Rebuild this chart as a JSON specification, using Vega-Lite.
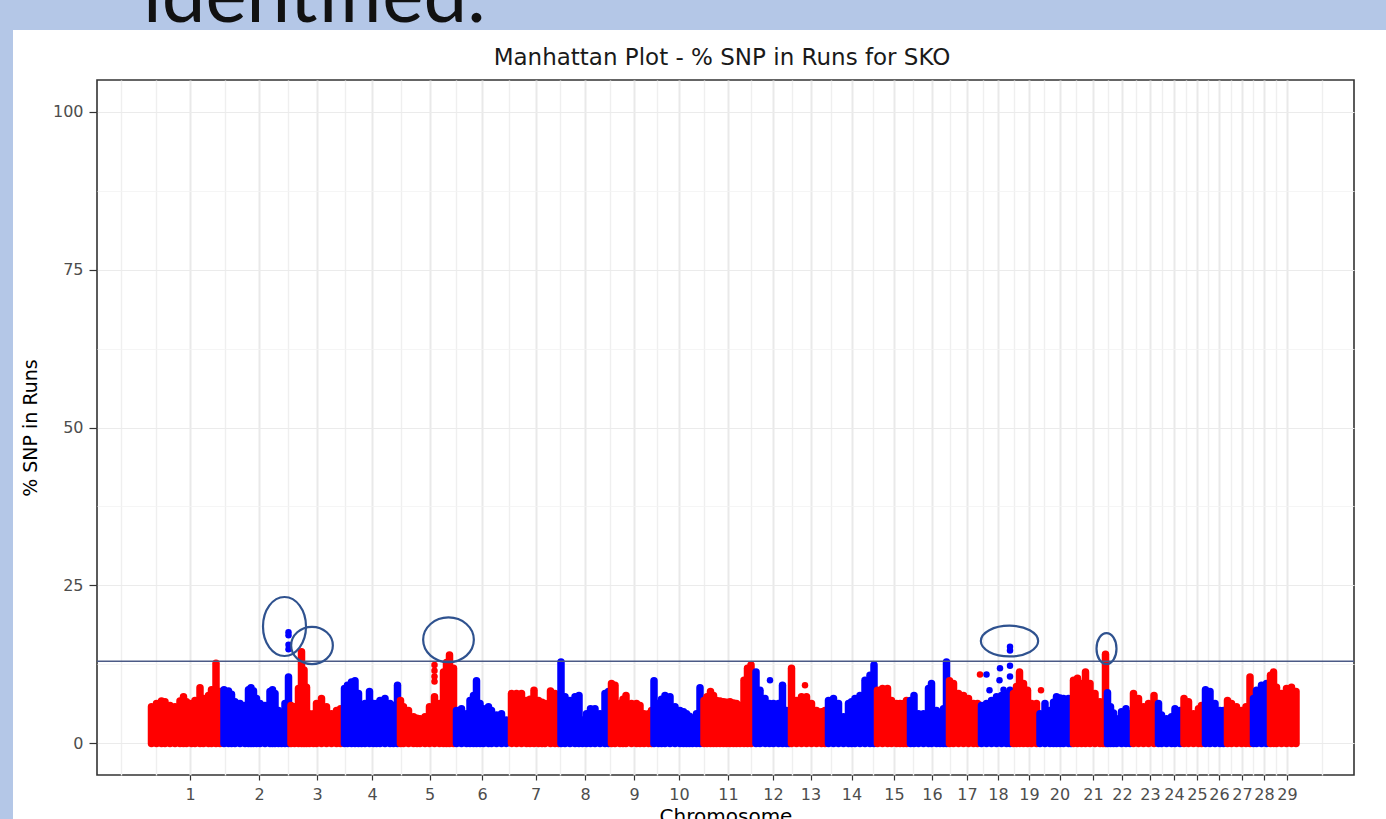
{
  "$schema": "https://vega.github.io/schema/vega-lite/v6.json",
  "width": 1257,
  "height": 695,
  "autosize": {"type": "none"},
  "padding": {"left": 97, "top": 80, "right": 32, "bottom": 44},
  "background": "white",
  "config": {"view": {"stroke": "#333333", "strokeWidth": 1.6}, "font": "DejaVu Sans"},
  "resolve": {"axis": {"x": "independent", "y": "independent"}},
  "datasets": {
    "cols": [
      {"chr":1,"pos":3,"pct":5.8},{"chr":1,"pos":13,"pct":6.3},{"chr":1,"pos":23,"pct":6.7},{"chr":1,"pos":30,"pct":6.6},{"chr":1,"pos":40,"pct":6.0},{"chr":1,"pos":50,"pct":5.8},{"chr":1,"pos":60,"pct":6.7},{"chr":1,"pos":67,"pct":7.4},{"chr":1,"pos":73,"pct":6.6},{"chr":1,"pos":83,"pct":6.3},{"chr":1,"pos":90,"pct":6.8},{"chr":1,"pos":100,"pct":8.8},{"chr":1,"pos":107,"pct":7.1},{"chr":1,"pos":117,"pct":7.6},{"chr":1,"pos":123,"pct":8.5},{"chr":1,"pos":132,"pct":12.7},{"chr":1,"pos":140,"pct":8.2},
      {"chr":2,"pos":148,"pct":8.5},{"chr":2,"pos":157,"pct":8.3},{"chr":2,"pos":163,"pct":7.8},{"chr":2,"pos":170,"pct":6.6},{"chr":2,"pos":180,"pct":6.3},{"chr":2,"pos":190,"pct":6.0},{"chr":2,"pos":197,"pct":8.5},{"chr":2,"pos":202,"pct":8.8},{"chr":2,"pos":207,"pct":8.3},{"chr":2,"pos":213,"pct":7.1},{"chr":2,"pos":220,"pct":6.3},{"chr":2,"pos":230,"pct":6.0},{"chr":2,"pos":240,"pct":8.2},{"chr":2,"pos":245,"pct":8.5},{"chr":2,"pos":250,"pct":7.9},{"chr":2,"pos":257,"pct":5.2},{"chr":2,"pos":263,"pct":4.7},{"chr":2,"pos":270,"pct":6.3},{"chr":2,"pos":277,"pct":10.5},
      {"chr":3,"pos":282,"pct":6.0},{"chr":3,"pos":289,"pct":5.8},{"chr":3,"pos":297,"pct":8.7},{"chr":3,"pos":303,"pct":14.5},{"chr":3,"pos":308,"pct":11.6},{"chr":3,"pos":313,"pct":8.9},{"chr":3,"pos":319,"pct":4.7},{"chr":3,"pos":327,"pct":4.7},{"chr":3,"pos":333,"pct":6.3},{"chr":3,"pos":343,"pct":7.1},{"chr":3,"pos":353,"pct":5.8},{"chr":3,"pos":363,"pct":4.7},{"chr":3,"pos":373,"pct":5.2},{"chr":3,"pos":381,"pct":5.5},
      {"chr":4,"pos":389,"pct":8.7},{"chr":4,"pos":395,"pct":9.2},{"chr":4,"pos":403,"pct":9.7},{"chr":4,"pos":410,"pct":9.9},{"chr":4,"pos":417,"pct":7.9},{"chr":4,"pos":423,"pct":6.0},{"chr":4,"pos":430,"pct":6.3},{"chr":4,"pos":439,"pct":8.2},{"chr":4,"pos":447,"pct":6.3},{"chr":4,"pos":453,"pct":6.3},{"chr":4,"pos":460,"pct":6.8},{"chr":4,"pos":470,"pct":7.1},{"chr":4,"pos":480,"pct":6.3},{"chr":4,"pos":487,"pct":6.0},{"chr":4,"pos":495,"pct":9.2},
      {"chr":5,"pos":501,"pct":6.8},{"chr":5,"pos":507,"pct":5.8},{"chr":5,"pos":517,"pct":5.2},{"chr":5,"pos":527,"pct":4.2},{"chr":5,"pos":534,"pct":4.0},{"chr":5,"pos":540,"pct":3.9},{"chr":5,"pos":550,"pct":4.2},{"chr":5,"pos":559,"pct":5.8},{"chr":5,"pos":569,"pct":7.4},{"chr":5,"pos":579,"pct":6.3},{"chr":5,"pos":587,"pct":11.3},{"chr":5,"pos":593,"pct":12.8},{"chr":5,"pos":599,"pct":14.0},{"chr":5,"pos":607,"pct":11.9},
      {"chr":6,"pos":613,"pct":5.2},{"chr":6,"pos":623,"pct":5.5},{"chr":6,"pos":633,"pct":4.7},{"chr":6,"pos":640,"pct":6.8},{"chr":6,"pos":647,"pct":7.6},{"chr":6,"pos":653,"pct":9.9},{"chr":6,"pos":660,"pct":6.3},{"chr":6,"pos":667,"pct":5.5},{"chr":6,"pos":677,"pct":5.8},{"chr":6,"pos":683,"pct":5.2},{"chr":6,"pos":693,"pct":4.5},{"chr":6,"pos":703,"pct":4.7},{"chr":6,"pos":713,"pct":3.7},
      {"chr":7,"pos":723,"pct":7.9},{"chr":7,"pos":733,"pct":7.9},{"chr":7,"pos":743,"pct":7.9},{"chr":7,"pos":753,"pct":6.8},{"chr":7,"pos":760,"pct":7.0},{"chr":7,"pos":768,"pct":8.4},{"chr":7,"pos":777,"pct":6.8},{"chr":7,"pos":784,"pct":6.5},{"chr":7,"pos":790,"pct":6.3},{"chr":7,"pos":801,"pct":8.3},{"chr":7,"pos":810,"pct":7.9},{"chr":7,"pos":817,"pct":7.4},
      {"chr":8,"pos":822,"pct":12.9},{"chr":8,"pos":830,"pct":7.4},{"chr":8,"pos":840,"pct":6.8},{"chr":8,"pos":850,"pct":7.4},{"chr":8,"pos":858,"pct":7.6},{"chr":8,"pos":865,"pct":3.7},{"chr":8,"pos":873,"pct":4.7},{"chr":8,"pos":881,"pct":5.5},{"chr":8,"pos":890,"pct":5.5},{"chr":8,"pos":900,"pct":4.7},{"chr":8,"pos":910,"pct":7.9},{"chr":8,"pos":917,"pct":8.2},
      {"chr":9,"pos":923,"pct":9.5},{"chr":9,"pos":930,"pct":9.2},{"chr":9,"pos":940,"pct":6.3},{"chr":9,"pos":946,"pct":7.0},{"chr":9,"pos":952,"pct":7.6},{"chr":9,"pos":963,"pct":6.3},{"chr":9,"pos":973,"pct":6.3},{"chr":9,"pos":980,"pct":6.0},{"chr":9,"pos":988,"pct":4.7},{"chr":9,"pos":997,"pct":4.7},{"chr":9,"pos":1003,"pct":5.2},
      {"chr":10,"pos":1008,"pct":9.9},{"chr":10,"pos":1017,"pct":6.3},{"chr":10,"pos":1023,"pct":7.0},{"chr":10,"pos":1030,"pct":7.6},{"chr":10,"pos":1040,"pct":7.4},{"chr":10,"pos":1050,"pct":5.8},{"chr":10,"pos":1060,"pct":5.2},{"chr":10,"pos":1067,"pct":5.0},{"chr":10,"pos":1073,"pct":4.7},{"chr":10,"pos":1079,"pct":4.3},{"chr":10,"pos":1085,"pct":3.9},{"chr":10,"pos":1093,"pct":4.7},{"chr":10,"pos":1100,"pct":8.8},
      {"chr":11,"pos":1108,"pct":6.8},{"chr":11,"pos":1114,"pct":7.4},{"chr":11,"pos":1121,"pct":8.2},{"chr":11,"pos":1127,"pct":7.6},{"chr":11,"pos":1133,"pct":6.8},{"chr":11,"pos":1140,"pct":6.7},{"chr":11,"pos":1147,"pct":6.6},{"chr":11,"pos":1153,"pct":6.5},{"chr":11,"pos":1160,"pct":6.6},{"chr":11,"pos":1167,"pct":6.4},{"chr":11,"pos":1173,"pct":6.3},{"chr":11,"pos":1180,"pct":6.0},{"chr":11,"pos":1188,"pct":10.0},{"chr":11,"pos":1195,"pct":11.9},{"chr":11,"pos":1202,"pct":12.4},
      {"chr":12,"pos":1212,"pct":11.3},{"chr":12,"pos":1220,"pct":8.4},{"chr":12,"pos":1230,"pct":7.1},{"chr":12,"pos":1239,"pct":6.3},{"chr":12,"pos":1247,"pct":6.3},{"chr":12,"pos":1257,"pct":6.3},{"chr":12,"pos":1265,"pct":9.2},{"chr":12,"pos":1273,"pct":5.2},{"chr":12,"pos":1278,"pct":4.5},
      {"chr":13,"pos":1283,"pct":11.9},{"chr":13,"pos":1293,"pct":6.8},{"chr":13,"pos":1303,"pct":7.4},{"chr":13,"pos":1313,"pct":7.4},{"chr":13,"pos":1323,"pct":6.3},{"chr":13,"pos":1333,"pct":5.2},{"chr":13,"pos":1343,"pct":5.0},{"chr":13,"pos":1350,"pct":5.2},
      {"chr":14,"pos":1357,"pct":6.8},{"chr":14,"pos":1367,"pct":7.1},{"chr":14,"pos":1377,"pct":6.3},{"chr":14,"pos":1387,"pct":4.2},{"chr":14,"pos":1397,"pct":6.3},{"chr":14,"pos":1403,"pct":6.6},{"chr":14,"pos":1410,"pct":7.1},{"chr":14,"pos":1420,"pct":7.6},{"chr":14,"pos":1430,"pct":10.0},{"chr":14,"pos":1440,"pct":10.8},{"chr":14,"pos":1448,"pct":12.4},
      {"chr":15,"pos":1455,"pct":8.4},{"chr":15,"pos":1465,"pct":8.7},{"chr":15,"pos":1475,"pct":8.7},{"chr":15,"pos":1483,"pct":6.8},{"chr":15,"pos":1493,"pct":6.3},{"chr":15,"pos":1500,"pct":6.3},{"chr":15,"pos":1507,"pct":6.3},{"chr":15,"pos":1513,"pct":6.8},
      {"chr":16,"pos":1521,"pct":6.8},{"chr":16,"pos":1528,"pct":7.6},{"chr":16,"pos":1537,"pct":4.7},{"chr":16,"pos":1547,"pct":4.7},{"chr":16,"pos":1557,"pct":8.7},{"chr":16,"pos":1563,"pct":9.5},{"chr":16,"pos":1573,"pct":5.2},{"chr":16,"pos":1580,"pct":4.7},{"chr":16,"pos":1587,"pct":5.5},{"chr":16,"pos":1593,"pct":12.9},
      {"chr":17,"pos":1599,"pct":9.9},{"chr":17,"pos":1607,"pct":9.5},{"chr":17,"pos":1617,"pct":7.9},{"chr":17,"pos":1627,"pct":7.6},{"chr":17,"pos":1637,"pct":7.1},{"chr":17,"pos":1647,"pct":6.3},{"chr":17,"pos":1655,"pct":6.3},
      {"chr":18,"pos":1663,"pct":6.0},{"chr":18,"pos":1673,"pct":6.3},{"chr":18,"pos":1683,"pct":6.8},{"chr":18,"pos":1693,"pct":7.4},{"chr":18,"pos":1703,"pct":7.6},{"chr":18,"pos":1713,"pct":7.9},{"chr":18,"pos":1720,"pct":8.4},
      {"chr":19,"pos":1727,"pct":7.9},{"chr":19,"pos":1733,"pct":9.0},{"chr":19,"pos":1739,"pct":11.3},{"chr":19,"pos":1747,"pct":9.5},{"chr":19,"pos":1755,"pct":8.4},{"chr":19,"pos":1763,"pct":6.3},{"chr":19,"pos":1773,"pct":6.3},
      {"chr":20,"pos":1780,"pct":4.7},{"chr":20,"pos":1790,"pct":6.3},{"chr":20,"pos":1800,"pct":5.2},{"chr":20,"pos":1807,"pct":6.5},{"chr":20,"pos":1813,"pct":7.4},{"chr":20,"pos":1820,"pct":7.2},{"chr":20,"pos":1827,"pct":7.1},{"chr":20,"pos":1837,"pct":7.1},{"chr":20,"pos":1842,"pct":6.3},
      {"chr":21,"pos":1847,"pct":10.0},{"chr":21,"pos":1855,"pct":10.3},{"chr":21,"pos":1863,"pct":9.5},{"chr":21,"pos":1871,"pct":11.3},{"chr":21,"pos":1880,"pct":9.5},{"chr":21,"pos":1890,"pct":7.9},{"chr":21,"pos":1900,"pct":6.6},{"chr":21,"pos":1906,"pct":6.4},{"chr":21,"pos":1911,"pct":14.1},
      {"chr":22,"pos":1915,"pct":8.0},{"chr":22,"pos":1921,"pct":5.8},{"chr":22,"pos":1927,"pct":4.8},{"chr":22,"pos":1933,"pct":3.9},{"chr":22,"pos":1943,"pct":5.0},{"chr":22,"pos":1952,"pct":5.5},{"chr":22,"pos":1960,"pct":4.7},
      {"chr":23,"pos":1967,"pct":7.9},{"chr":23,"pos":1977,"pct":7.1},{"chr":23,"pos":1987,"pct":5.8},{"chr":23,"pos":1997,"pct":6.3},{"chr":23,"pos":2008,"pct":7.6},
      {"chr":24,"pos":2017,"pct":6.3},{"chr":24,"pos":2023,"pct":4.5},{"chr":24,"pos":2033,"pct":3.9},{"chr":24,"pos":2043,"pct":4.2},{"chr":24,"pos":2050,"pct":5.5},{"chr":24,"pos":2060,"pct":5.2},
      {"chr":25,"pos":2068,"pct":7.1},{"chr":25,"pos":2077,"pct":6.6},{"chr":25,"pos":2087,"pct":4.7},{"chr":25,"pos":2097,"pct":5.5},{"chr":25,"pos":2103,"pct":6.0},
      {"chr":26,"pos":2111,"pct":8.5},{"chr":26,"pos":2120,"pct":8.2},{"chr":26,"pos":2130,"pct":6.3},{"chr":26,"pos":2140,"pct":5.2},{"chr":26,"pos":2147,"pct":5.2},
      {"chr":27,"pos":2155,"pct":6.8},{"chr":27,"pos":2163,"pct":6.3},{"chr":27,"pos":2173,"pct":5.8},{"chr":27,"pos":2183,"pct":5.2},{"chr":27,"pos":2192,"pct":5.8},{"chr":27,"pos":2200,"pct":10.5},
      {"chr":28,"pos":2207,"pct":7.1},{"chr":28,"pos":2213,"pct":8.4},{"chr":28,"pos":2223,"pct":9.2},{"chr":28,"pos":2233,"pct":9.5},
      {"chr":29,"pos":2241,"pct":10.8},{"chr":29,"pos":2247,"pct":11.3},{"chr":29,"pos":2253,"pct":8.9},{"chr":29,"pos":2263,"pct":7.9},{"chr":29,"pos":2273,"pct":8.7},{"chr":29,"pos":2283,"pct":8.9},{"chr":29,"pos":2292,"pct":8.2}
    ],
    "pts": [
      {"chr":2,"pos":277,"pct":17.6},{"chr":2,"pos":277,"pct":17.1},{"chr":2,"pos":277,"pct":15.6},{"chr":2,"pos":277,"pct":14.9},
      {"chr":5,"pos":569,"pct":12.4},{"chr":5,"pos":569,"pct":11.5},{"chr":5,"pos":569,"pct":10.6},{"chr":5,"pos":569,"pct":9.8},
      {"chr":12,"pos":1240,"pct":10.0},{"chr":13,"pos":1310,"pct":9.2},{"chr":17,"pos":1660,"pct":10.9},
      {"chr":18,"pos":1673,"pct":10.9},{"chr":18,"pos":1679,"pct":8.4},{"chr":18,"pos":1700,"pct":11.9},{"chr":18,"pos":1699,"pct":10.0},{"chr":18,"pos":1720,"pct":12.3},{"chr":18,"pos":1720,"pct":10.6},{"chr":18,"pos":1707,"pct":8.5},{"chr":18,"pos":1720,"pct":15.3},{"chr":18,"pos":1720,"pct":14.7},
      {"chr":19,"pos":1782,"pct":8.4}
    ],
    "highlights": [
      {"chr":2,"pos":269,"pct":18.5},{"chr":3,"pos":324,"pct":15.5},{"chr":5,"pos":597,"pct":16.4},{"chr":18,"pos":1719,"pct":16.2},{"chr":21,"pos":1913,"pct":15.0}
    ],
    "hline": [{"threshold": 13}]
  },
  "layer": [
    {
      "data": {"values": [{"part": "slide left margin"}]},
      "mark": {"type": "rect", "color": "#b4c7e7"},
      "encoding": {
        "x": {"datum": -400, "type": "quantitative", "scale": {"domain": [-106, 2408], "nice": false, "zero": false}, "axis": null},
        "x2": {"datum": -274},
        "y": {"datum": 130, "type": "quantitative", "scale": {"domain": [-5, 105], "nice": false, "zero": false}, "axis": null},
        "y2": {"datum": -30}
      }
    },
    {
      "data": {"values": [{"part": "slide top margin"}]},
      "mark": {"type": "rect", "color": "#b4c7e7"},
      "encoding": {
        "x": {"datum": -400, "type": "quantitative", "scale": {"domain": [-106, 2408], "nice": false, "zero": false}, "axis": null},
        "x2": {"datum": 2600},
        "y": {"datum": 130, "type": "quantitative", "scale": {"domain": [-5, 105], "nice": false, "zero": false}, "axis": null},
        "y2": {"datum": 112.9}
      }
    },
    {
      "data": {"values": [{"label": "identified."}]},
      "mark": {"type": "text", "font": "Lato", "fontSize": 78, "align": "left", "baseline": "alphabetic", "color": "#111111"},
      "encoding": {
        "text": {"field": "label"},
        "x": {"datum": -14, "type": "quantitative", "scale": {"domain": [-106, 2408], "nice": false, "zero": false}, "axis": null},
        "y": {"datum": 114.18, "type": "quantitative", "scale": {"domain": [-5, 105], "nice": false, "zero": false}, "axis": null}
      }
    },
    {
      "data": {"values": [{"label": "Manhattan Plot - % SNP in Runs for  SKO"}]},
      "mark": {"type": "text", "font": "DejaVu Sans", "fontSize": 23, "align": "center", "baseline": "alphabetic", "color": "#1a1a1a"},
      "encoding": {
        "text": {"field": "label"},
        "x": {"datum": 1144, "type": "quantitative", "scale": {"domain": [-106, 2408], "nice": false, "zero": false}, "axis": null},
        "y": {"datum": 107.37, "type": "quantitative", "scale": {"domain": [-5, 105], "nice": false, "zero": false}, "axis": null}
      }
    },
    {
      "data": {"name": "cols"},
      "mark": {"type": "rule", "strokeWidth": 7.5, "strokeCap": "round"},
      "encoding": {
        "x": {
          "field": "pos", "type": "quantitative",
          "scale": {"domain": [-106, 2408], "nice": false, "zero": false},
          "axis": {
            "values": [80,218,334,444,559,664,771,870,968,1058,1156,1246,1321,1403,1488,1564,1634,1696,1758,1819,1886,1944,2000,2048,2094,2138,2184,2228,2274],
            "labelExpr": "indexof([80,218,334,444,559,664,771,870,968,1058,1156,1246,1321,1403,1488,1564,1634,1696,1758,1819,1886,1944,2000,2048,2094,2138,2184,2228,2274], datum.value) + 1",
            "title": "Chromosome",
            "grid": true, "gridColor": "#e9e9e9", "gridWidth": 2,
            "domain": false,
            "ticks": true, "tickColor": "#333333", "tickSize": 5, "tickWidth": 1.2,
            "labelFont": "DejaVu Sans", "labelFontSize": 16, "labelColor": "#4d4d4d", "labelPadding": 6,
            "labelOverlap": false, "labelFlush": false,
            "titleFont": "DejaVu Sans", "titleFontSize": 20, "titleFontWeight": "normal", "titleColor": "#000000", "titlePadding": 4
          }
        },
        "y": {
          "field": "pct", "type": "quantitative",
          "scale": {"domain": [-5, 105], "nice": false, "zero": false},
          "axis": {
            "values": [0, 25, 50, 75, 100],
            "title": "% SNP in Runs",
            "grid": true, "gridColor": "#ebebeb", "gridWidth": 1.2,
            "domain": false,
            "tickColor": "#333333", "tickSize": 8, "tickWidth": 1.2,
            "labelFont": "DejaVu Sans", "labelFontSize": 16, "labelColor": "#4d4d4d", "labelPadding": 6,
            "labelFlush": false,
            "titleFont": "DejaVu Sans", "titleFontSize": 19, "titleFontWeight": "normal", "titleColor": "#000000", "titlePadding": 12
          }
        },
        "y2": {"datum": 0},
        "color": {
          "field": "chr", "type": "nominal", "legend": null,
          "scale": {
            "domain": [1,2,3,4,5,6,7,8,9,10,11,12,13,14,15,16,17,18,19,20,21,22,23,24,25,26,27,28,29],
            "range": ["#ff0000","#0000ff","#ff0000","#0000ff","#ff0000","#0000ff","#ff0000","#0000ff","#ff0000","#0000ff","#ff0000","#0000ff","#ff0000","#0000ff","#ff0000","#0000ff","#ff0000","#0000ff","#ff0000","#0000ff","#ff0000","#0000ff","#ff0000","#0000ff","#ff0000","#0000ff","#ff0000","#0000ff","#ff0000"]
          }
        }
      }
    },
    {
      "data": {"name": "pts"},
      "mark": {"type": "circle", "size": 42, "opacity": 1},
      "encoding": {
        "x": {
          "field": "pos", "type": "quantitative",
          "scale": {"domain": [-106, 2408], "nice": false, "zero": false},
          "axis": {
            "values": [-58,11,149,276,389,501.5,611.5,717.5,820.5,919,1013,1107,1201,1283.5,1362,1445.5,1526,1599,1665,1727,1788.5,1852.5,1915,1972,2024,2071,2116,2161,2206,2251,2343],
            "grid": true, "gridColor": "#efefef", "gridWidth": 1.4,
            "labels": false, "ticks": false, "domain": false, "title": null
          }
        },
        "y": {
          "field": "pct", "type": "quantitative",
          "scale": {"domain": [-5, 105], "nice": false, "zero": false},
          "axis": {
            "values": [12.5, 37.5, 62.5, 87.5],
            "grid": true, "gridColor": "#f2f2f2", "gridWidth": 0.8,
            "labels": false, "ticks": false, "domain": false, "title": null
          }
        },
        "color": {"field": "chr", "type": "nominal", "legend": null}
      }
    },
    {
      "data": {"name": "hline"},
      "mark": {"type": "rule", "color": "#4b5a86", "strokeWidth": 1.6},
      "encoding": {
        "y": {"field": "threshold", "type": "quantitative", "scale": {"domain": [-5, 105], "nice": false, "zero": false}, "axis": null}
      }
    },
    {
      "data": {"name": "highlights"},
      "transform": [{"filter": "datum.chr == 2"}],
      "mark": {"type": "point", "shape": "M -0.729 0 A 0.729 1 0 1 0 0.729 0 A 0.729 1 0 1 0 -0.729 0 Z", "size": 3481, "filled": false, "color": "#2f528f", "strokeWidth": 2.2, "opacity": 1},
      "encoding": {
        "x": {"field": "pos", "type": "quantitative", "scale": {"domain": [-106, 2408], "nice": false, "zero": false}, "axis": null},
        "y": {"field": "pct", "type": "quantitative", "scale": {"domain": [-5, 105], "nice": false, "zero": false}, "axis": null}
      }
    },
    {
      "data": {"name": "highlights"},
      "transform": [{"filter": "datum.chr == 3"}],
      "mark": {"type": "point", "shape": "M -1 0 A 1 0.894 0 1 0 1 0 A 1 0.894 0 1 0 -1 0 Z", "size": 1739, "filled": false, "color": "#2f528f", "strokeWidth": 2.2, "opacity": 1},
      "encoding": {
        "x": {"field": "pos", "type": "quantitative", "scale": {"domain": [-106, 2408], "nice": false, "zero": false}, "axis": null},
        "y": {"field": "pct", "type": "quantitative", "scale": {"domain": [-5, 105], "nice": false, "zero": false}, "axis": null}
      }
    },
    {
      "data": {"name": "highlights"},
      "transform": [{"filter": "datum.chr == 5"}],
      "mark": {"type": "point", "shape": "M -1 0 A 1 0.882 0 1 0 1 0 A 1 0.882 0 1 0 -1 0 Z", "size": 2570, "filled": false, "color": "#2f528f", "strokeWidth": 2.2, "opacity": 1},
      "encoding": {
        "x": {"field": "pos", "type": "quantitative", "scale": {"domain": [-106, 2408], "nice": false, "zero": false}, "axis": null},
        "y": {"field": "pct", "type": "quantitative", "scale": {"domain": [-5, 105], "nice": false, "zero": false}, "axis": null}
      }
    },
    {
      "data": {"name": "highlights"},
      "transform": [{"filter": "datum.chr == 18"}],
      "mark": {"type": "point", "shape": "M -1 0 A 1 0.536 0 1 0 1 0 A 1 0.536 0 1 0 -1 0 Z", "size": 3283, "filled": false, "color": "#2f528f", "strokeWidth": 2.2, "opacity": 1},
      "encoding": {
        "x": {"field": "pos", "type": "quantitative", "scale": {"domain": [-106, 2408], "nice": false, "zero": false}, "axis": null},
        "y": {"field": "pct", "type": "quantitative", "scale": {"domain": [-5, 105], "nice": false, "zero": false}, "axis": null}
      }
    },
    {
      "data": {"name": "highlights"},
      "transform": [{"filter": "datum.chr == 21"}],
      "mark": {"type": "point", "shape": "M -0.645 0 A 0.645 1 0 1 0 0.645 0 A 0.645 1 0 1 0 -0.645 0 Z", "size": 961, "filled": false, "color": "#2f528f", "strokeWidth": 2.2, "opacity": 1},
      "encoding": {
        "x": {"field": "pos", "type": "quantitative", "scale": {"domain": [-106, 2408], "nice": false, "zero": false}, "axis": null},
        "y": {"field": "pct", "type": "quantitative", "scale": {"domain": [-5, 105], "nice": false, "zero": false}, "axis": null}
      }
    }
  ]
}
